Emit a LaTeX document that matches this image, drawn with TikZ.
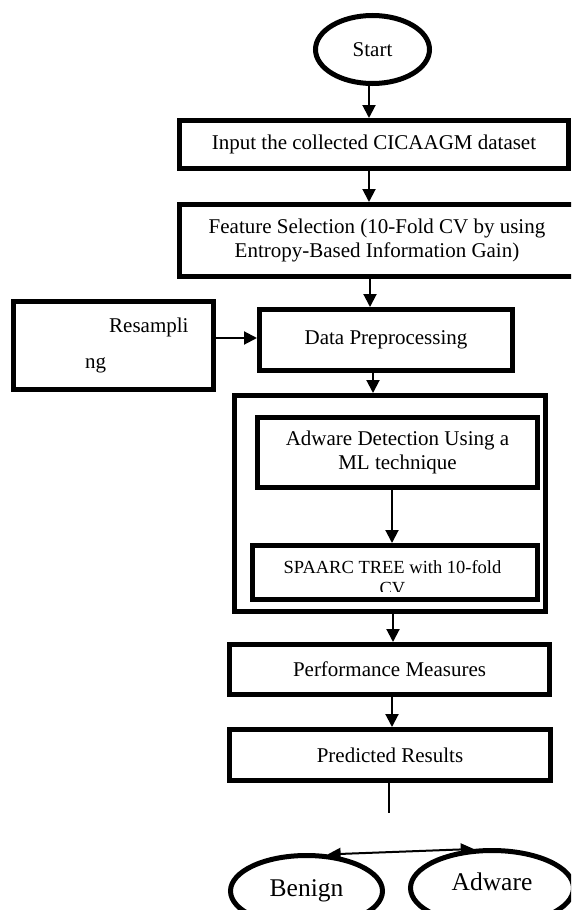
\documentclass[tikz,border=0pt]{standalone}
\usepackage{fontspec}
\setmainfont{Liberation Serif}
\usetikzlibrary{arrows.meta,shapes.geometric}
\begin{document}
\begin{tikzpicture}[x=1pt,y=-1pt,
  box/.style={draw, line width=5pt, rectangle, inner sep=0pt, align=center, font=\fontsize{21}{24}\selectfont},
  oval/.style={draw, line width=5pt, ellipse, inner sep=0pt},
  lbl/.style={inner sep=0pt, font=\fontsize{21}{24}\selectfont},
  arr/.style={line width=2pt, -{Triangle[width=13pt,length=13pt]}},
  dblarr/.style={line width=2pt, {Triangle[width=12pt,length=13pt]}-{Triangle[width=12pt,length=13pt]}},
  plain/.style={line width=2pt}
]
\useasboundingbox (0,0) rectangle (571,910);
\clip (0,0) rectangle (571,910);

% nodes
\node[oval, minimum width=114pt, minimum height=68pt, font=\fontsize{21}{24}\selectfont] (start) at (372.5,49.5) {Start};
\node[box, minimum width=389pt, minimum height=48pt] (input) at (374,144.5) {Input the collected CICAAGM dataset};
\node[box, minimum width=395pt, minimum height=72pt] (feature) at (377,240.5) {Feature Selection (10-Fold CV by using\\Entropy-Based Information Gain)};
\node[box, minimum width=200pt, minimum height=88pt] (resamp) at (113.5,345.5) {};
\node[lbl, anchor=base west] (resampA) at (109,332) {Resampli};
\node[lbl, anchor=base west] (resampB) at (85,368) {ng};
\node[box, minimum width=253pt, minimum height=61pt] (data) at (386,340) {Data Preprocessing};
\node[box, minimum width=311pt, minimum height=216pt] (outer) at (390,503.5) {};
\node[box, minimum width=280pt, minimum height=70pt] (adet) at (397.5,452.5) {Adware Detection Using a\\ML technique};
\node[box, minimum width=285pt, minimum height=54pt] (spaarc) at (395,572.5) {};
\begin{scope}
  \clip (255,548) rectangle (535,591);
  \node[lbl, anchor=base, font=\fontsize{18.5}{21}\selectfont] (spaarcA) at (392.5,573) {SPAARC TREE with 10-fold};
  \node[lbl, anchor=base, font=\fontsize{18.5}{21}\selectfont] (spaarcB) at (392.5,594) {CV};
\end{scope}
\node[box, minimum width=320pt, minimum height=50pt] (perf) at (389.5,669.5) {Performance Measures};
\node[box, minimum width=321pt, minimum height=51pt] (pred) at (390,755) {Predicted Results};
\coordinate (predend) at (389,813);
\node[oval, minimum width=152pt, minimum height=71pt, font=\fontsize{25.5}{28}\selectfont] (benign) at (306.5,891) {Benign};
\node[oval, minimum width=163pt, minimum height=75pt, text depth=12pt, font=\fontsize{25.5}{28}\selectfont] (adware) at (492,888) {Adware};

% connectors
\draw[arr] ([xshift=-3.5pt]start.south) -- ([xshift=-3.5pt]start.south |- input.north);
\draw[arr] ([xshift=-5pt]input.south) -- ([xshift=-5pt]input.south |- feature.north);
\draw[arr] ([xshift=-7pt]feature.south) -- ([xshift=-7pt]feature.south |- data.north);
\draw[arr] ([yshift=7.5pt]resamp.east) -- ([yshift=7.5pt]resamp.east -| data.west);
\draw[arr] ([xshift=-13pt]data.south) -- ([xshift=-13pt]data.south |- outer.north);
\draw[arr] ([xshift=-5.5pt]adet.south) -- ([xshift=-5.5pt]adet.south |- spaarc.north);
\draw[arr] ([xshift=3pt]outer.south) -- ([xshift=3pt]outer.south |- perf.north);
\draw[arr] ([xshift=2.5pt]perf.south) -- ([xshift=2.5pt]perf.south |- pred.north);
\draw[plain] (pred.south -| predend) -- (predend);
\draw[dblarr] (benign.60) -- (adware.115);
\end{tikzpicture}
\end{document}
